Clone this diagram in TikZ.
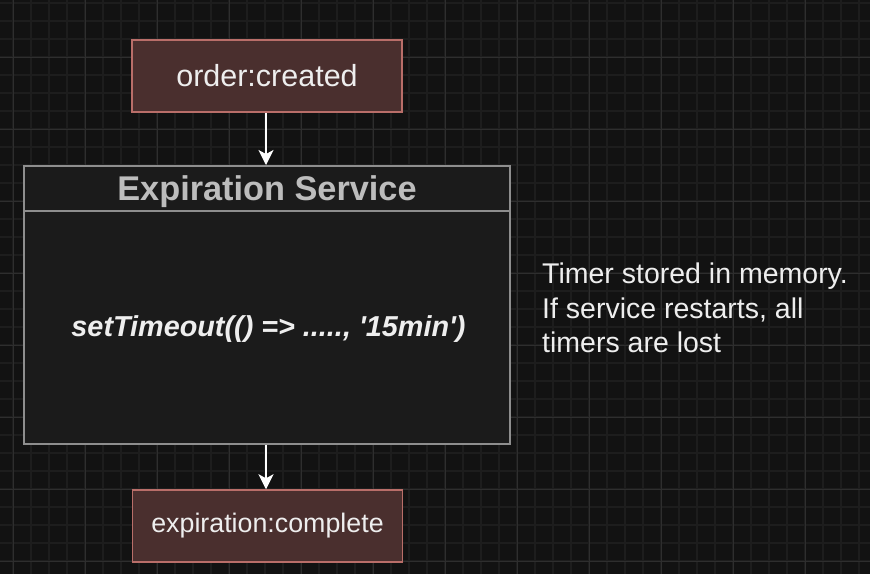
\documentclass[tikz,border=0pt]{standalone}
\usepackage{fontspec}
\setmainfont{Liberation Sans}
\usetikzlibrary{arrows.meta}
\definecolor{bgc}{HTML}{121212}
\definecolor{minorc}{HTML}{1D1D1D}
\definecolor{majorc}{HTML}{2E2E2E}
\definecolor{evfill}{HTML}{4A2F2E}
\definecolor{evline}{HTML}{B96E69}
\definecolor{svfill}{HTML}{1B1B1B}
\definecolor{svline}{HTML}{8E8E8E}
\definecolor{hdtext}{HTML}{BDBDBD}
\definecolor{txt}{HTML}{EEEEEE}
\tikzset{
  eventbox/.style={draw=evline, fill=evfill, line width=1.5pt, minimum width=270pt, minimum height=72pt, inner sep=0pt, text=txt},
  servicebox/.style={draw=svline, fill=svfill, line width=2pt, minimum width=486pt, minimum height=278pt, inner sep=0pt},
  flow/.style={draw=white, line width=1.5pt, -{Stealth[length=15pt,width=15pt,inset=4pt]}},
  note/.style={anchor=base west, inner sep=0pt, text=txt, font=\fontsize{28.5}{34}\selectfont},
}
\begin{document}
\begin{tikzpicture}[x=1pt,y=-1pt]
\useasboundingbox (0,0) rectangle (870,574);
\fill[bgc] (0,0) rectangle (870,574);
\begin{scope}
\clip (0,0) rectangle (870,574);
\foreach \i in {0,...,49} {
  \draw[minorc, line width=2pt] ({13-18+18*\i},0) -- ({13-18+18*\i},574);
}
\foreach \j in {0,...,32} {
  \draw[minorc, line width=2pt] (0,{3+18*\j}) -- (870,{3+18*\j});
}
\foreach \i in {0,...,12} {
  \draw[majorc, line width=1pt] ({13+72*\i},0) -- ({13+72*\i},574);
}
\foreach \j in {-1,...,8} {
  \draw[majorc, line width=1pt] (0,{57+72*\j}) -- (870,{57+72*\j});
}
\end{scope}

\node[eventbox, font=\fontsize{30.5}{36}\selectfont] (order) at (267,76) {order:created};
\node[servicebox] (service) at (267,305) {};
\coordinate (hl) at (24,210.5);
\coordinate (hr) at (510,210.5);
\draw[svline, line width=2pt] (hl) -- (hr);
\node[anchor=base, inner sep=0pt, text=hdtext, font=\fontsize{34.3}{40}\selectfont\bfseries] (title) at (267,200.7) {Expiration Service};
\node[anchor=base, inner sep=0pt, text=txt, font=\fontsize{28.8}{34}\selectfont\bfseries\itshape] (code) at (268.5,336.7) {setTimeout(() => ....., \textquotesingle15min\textquotesingle)};
\node[eventbox, font=\fontsize{26.8}{32}\selectfont] (complete) at (267.5,526) {expiration:complete};

\node[note] (n1) at (542,283) {Timer stored in memory.};
\node[note] (n2) at (542,318) {If service restarts, all};
\node[note] (n3) at (542,352) {timers are lost};

\draw[flow] (order.south -| 266,0) -- (service.north -| 266,0);
\draw[flow] (service.south -| 266,0) -- (complete.north -| 266,0);
\end{tikzpicture}
\end{document}
